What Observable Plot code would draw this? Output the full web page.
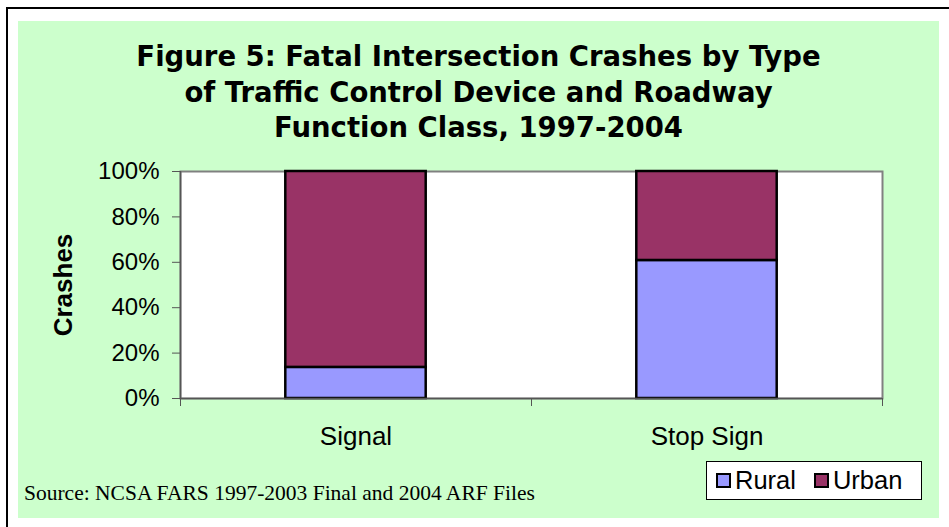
<!DOCTYPE html>
<html><head><meta charset="utf-8">
<script src="https://cdn.jsdelivr.net/npm/d3@7"></script>
<script src="https://cdn.jsdelivr.net/npm/@observablehq/plot@0.6"></script>
<style>
body{margin:0;width:949px;height:527px;overflow:hidden;background:#fff;position:relative;font-family:"Liberation Sans",Arial,sans-serif}
#outer{position:absolute;left:6px;top:7px;width:1000px;height:600px;border:2px solid #000;box-sizing:border-box}
#panel{position:absolute;left:18px;top:21px;width:921px;height:497px;background:#ccffcc}
#title{position:absolute;left:18px;width:921px;top:39px;text-align:center;font-family:"DejaVu Sans",Verdana,sans-serif;font-weight:bold;font-size:27.5px;line-height:35.5px;color:#000}
#chart{position:absolute;left:0;top:0}
#ylab{position:absolute;left:63px;top:285px;transform:translate(-50%,-50%) rotate(-90deg);font-weight:bold;font-size:26px;white-space:nowrap}
#source{position:absolute;left:24px;top:481px;font-family:"Liberation Serif","Times New Roman",serif;font-size:21.5px;white-space:nowrap}
#legend{position:absolute;left:706px;top:461px;width:216px;height:39px;box-sizing:border-box;border:1px solid #000;background:#fff;display:flex;align-items:center;padding-left:9px;font-size:25.5px}
#legend .sw{display:inline-block;width:15px;height:15px;border:2px solid #000;box-sizing:border-box;margin-right:4px}
#legend .it{display:flex;align-items:center;margin-right:18px}
</style></head>
<body>
<div id="outer"></div>
<div id="panel"></div>
<div id="title">Figure 5: Fatal Intersection Crashes by Type<br>of Traffic Control Device and Roadway<br>Function Class, 1997-2004</div>
<div id="chart"></div>
<div id="ylab">Crashes</div>
<div id="source">Source: NCSA FARS 1997-2003 Final and 2004 ARF Files</div>
<div id="legend"></div>
<script>
const categories = ["Signal", "Stop Sign"];
const series = ["Rural", "Urban"];
const rural = [13.7, 60.8];
const urban = [86.3, 39.2];
const colors = ["#9999ff", "#993366"];
const yTicks = [0, 20, 40, 60, 80, 100];

const valuesBySeries = [rural, urban];
const rows = [];
categories.forEach((c, i) => {
  let base = 0;
  valuesBySeries.forEach((arr, k) => {
    rows.push({cat: c, i, series: series[k], y1: base, y2: base + arr[i]});
    base += arr[i];
  });
});

const chart = Plot.plot({
  width: 949, height: 527,
  marginTop: 171, marginBottom: 129, marginLeft: 180, marginRight: 67,
  style: {background: "transparent", fontFamily: "Liberation Sans, Arial, sans-serif", color: "#000"},
  x: {domain: [0, categories.length]},
  y: {domain: [0, 100]},
  color: {domain: series, range: colors},
  marks: [
    Plot.frame({fill: "white", stroke: "#808080", strokeWidth: 2}),
    Plot.rect(rows, {x1: d => d.i + 0.3, x2: d => d.i + 0.7, y1: "y1", y2: "y2", fill: "series", stroke: "black", strokeWidth: 2.5}),
    Plot.ruleY([0], {stroke: "#555", strokeWidth: 1.5}),
    Plot.ruleX([0], {stroke: "#555", strokeWidth: 1.5}),
    Plot.axisY({ticks: yTicks, tickFormat: d => d + "%", tickSize: 8, tickPadding: 13, stroke: "#555", fontSize: 24, label: null}),
    Plot.axisX({ticks: d3.range(categories.length + 1), tickFormat: () => "", tickSize: 8, stroke: "#555", label: null}),
    Plot.axisX({ticks: categories.map((c, i) => i + 0.5), tickFormat: d => categories[Math.floor(d)], tickSize: 0, tickPadding: 28, fontSize: 26, label: null})
  ]
});
document.getElementById("chart").appendChild(chart);

const leg = document.getElementById("legend");
series.forEach((s, k) => {
  const it = document.createElement("span");
  it.className = "it";
  it.innerHTML = `<span class="sw" style="background:${colors[k]}"></span><span>${s}</span>`;
  leg.appendChild(it);
});
</script>
</body></html>
